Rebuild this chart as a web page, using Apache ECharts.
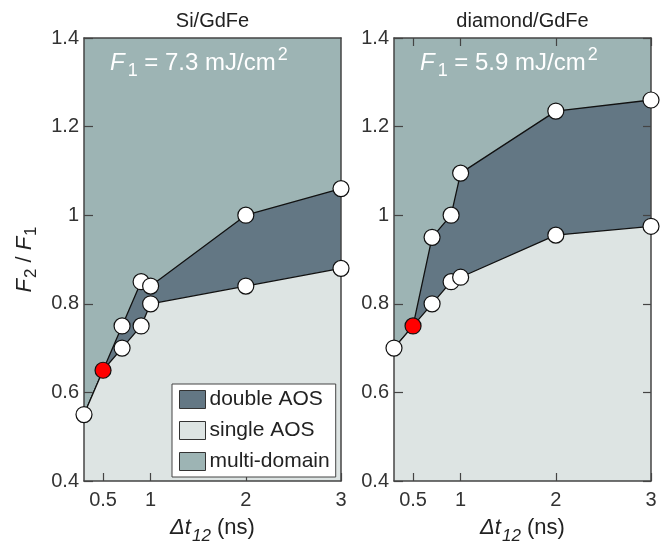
<!DOCTYPE html>
<html>
<head>
<meta charset="utf-8">
<script src="https://cdn.jsdelivr.net/npm/echarts@6/dist/echarts.min.js"></script>
<style>
  body { margin: 0; background: #fff; }
  #main { width: 662px; height: 541px; }
</style>
</head>
<body>
<div id="main"></div>
<script>
// delay between the two pulses (ns)
var dt = [0.3, 0.5, 0.7, 0.9, 1, 2, 3];
var xTicks = [0.5, 1, 2, 3];
// F2/F1 boundaries, Si/GdFe
var siUpper = [0.55, 0.65, 0.75, 0.85, 0.84, 1.0, 1.06];
var siLower = [0.55, 0.65, 0.70, 0.75, 0.80, 0.84, 0.88];
// F2/F1 boundaries, diamond/GdFe
var diaUpper = [0.70, 0.75, 0.95, 1.0, 1.095, 1.235, 1.26];
var diaLower = [0.70, 0.75, 0.80, 0.85, 0.86, 0.955, 0.975];
var redDt = 0.5;
var panelTitles = ['Si/GdFe', 'diamond/GdFe'];
var fluence = ['7.3', '5.9'];
var legendNames = ['double AOS', 'single AOS', 'multi-domain'];

var cDouble = '#637784', cSingle = '#dde4e3', cMulti = '#9db4b4';
var axisCol = '#444', txtCol = '#222';
var font = 'Liberation Sans, Arial, sans-serif';

var gridLeft = [84, 394];
var upper = [siUpper, diaUpper];
var lower = [siLower, diaLower];

function pairs(xs, ys) {
    var out = [];
    for (var i = 0; i < xs.length; i++) out.push([xs[i], ys[i]]);
    return out;
}

var grids = [], xAxes = [], yAxes = [], series = [], graphics = [];

for (var g = 0; g < 2; g++) {
    grids.push({left: gridLeft[g], top: 38, width: 257, height: 443,
        outerBoundsMode: 'none', containLabel: false,
        show: true, backgroundColor: cMulti, borderWidth: 0});

    var line = {show: true, lineStyle: {color: axisCol, width: 1.5}};
    var tick = {show: true, inside: true, length: 8, lineStyle: {color: axisCol, width: 1.2}};
    // bottom x
    xAxes.push({gridIndex: g, type: 'value', min: 0.3, max: 3, z: 3,
        axisLine: line,
        axisTick: Object.assign({customValues: xTicks}, tick),
        axisLabel: {customValues: xTicks, fontSize: 20, fontFamily: font, color: '#333', margin: 9},
        splitLine: {show: false},
        name: '{d|Δt}{s|12}{n| (ns)}', nameLocation: 'middle', nameGap: 29,
        nameTextStyle: {color: txtCol, fontFamily: font, fontSize: 21, rich: {
            d: {fontStyle: 'italic', fontSize: 22, fontFamily: font, color: txtCol},
            s: {fontStyle: 'italic', fontSize: 17, fontFamily: font, color: txtCol, padding: [18, 0, 0, 1]},
            n: {fontSize: 22, fontFamily: font, color: txtCol}
        }}
    });
    // top x (frame)
    xAxes.push({gridIndex: g, type: 'value', position: 'top', min: 0.3, max: 3, z: 3,
        axisLine: line,
        axisTick: Object.assign({customValues: xTicks}, tick, {show: g === 1}),
        axisLabel: {show: false}, splitLine: {show: false}
    });
    // left y
    var yl = {gridIndex: g, type: 'value', min: 0.4, max: 1.4, interval: 0.2, z: 3,
        axisLine: line, axisTick: Object.assign({}, tick, {length: 9}),
        axisLabel: {fontSize: 20, fontFamily: font, color: '#333', margin: 5},
        splitLine: {show: false}};
    if (g === 0) {
        yl.name = '{f|F}{s|2}{n| / }{f|F}{s|1}';
        yl.nameLocation = 'middle';
        yl.nameGap = 44;
        yl.nameRotate = 90;
        yl.nameTextStyle = {color: txtCol, fontSize: 20, fontFamily: font, rich: {
            f: {fontStyle: 'italic', fontSize: 22, fontFamily: font, color: txtCol},
            s: {fontSize: 17, fontFamily: font, color: txtCol, padding: [14, 0, 0, 1]},
            n: {fontSize: 22, fontFamily: font, color: txtCol}
        }};
    }
    yAxes.push(yl);
    // right y (frame)
    yAxes.push({gridIndex: g, type: 'value', position: 'right', min: 0.4, max: 1.4, interval: 0.2, z: 3,
        axisLine: line, axisTick: Object.assign({}, tick, {show: g === 1, length: 8}),
        axisLabel: {show: false}, splitLine: {show: false}});

    // double AOS region under upper boundary
    series.push({type: 'line', name: 'upper' + g, xAxisIndex: 2 * g, yAxisIndex: 2 * g,
        data: pairs(dt, upper[g]), symbol: 'none', z: 1, silent: true,
        lineStyle: {color: '#111', width: 1.3},
        areaStyle: {color: cDouble, opacity: 1, origin: 'start'}});
    // single AOS region under lower boundary
    series.push({type: 'line', name: 'lower' + g, xAxisIndex: 2 * g, yAxisIndex: 2 * g,
        data: pairs(dt, lower[g]), symbol: 'none', z: 2, silent: true,
        lineStyle: {color: '#111', width: 1.3},
        areaStyle: {color: cSingle, opacity: 1, origin: 'start'}});

    // measured points
    var pts = [];
    for (var i = 0; i < dt.length; i++) {
        var cols = [upper[g][i]];
        if (lower[g][i] !== upper[g][i]) cols.push(lower[g][i]);
        for (var k = 0; k < cols.length; k++) {
            var p = {value: [dt[i], cols[k]]};
            if (dt[i] === redDt) p.itemStyle = {color: '#ff0000'};
            pts.push(p);
        }
    }
    series.push({type: 'scatter', name: 'pts' + g, xAxisIndex: 2 * g, yAxisIndex: 2 * g,
        data: pts, symbolSize: 16, z: 4, clip: false, silent: true,
        itemStyle: {color: '#fff', borderColor: '#111', borderWidth: 1.2, opacity: 1}});

    graphics.push({type: 'text', x: gridLeft[g] + 128.5, y: 21, z: 10,
        style: {text: panelTitles[g], fontSize: 20, fontFamily: font, fill: txtCol,
            align: 'center', verticalAlign: 'middle'}});
    graphics.push({type: 'text', x: gridLeft[g] + 26, y: 63, z: 10,
        style: {text: '{f|F}{s|1}{n| = ' + fluence[g] + ' mJ/cm}{p|2}', verticalAlign: 'middle',
            rich: {
                f: {fontStyle: 'italic', fontSize: 24, fontFamily: font, fill: '#fff'},
                s: {fontSize: 18, fontFamily: font, fill: '#fff', padding: [17, 0, 0, 3]},
                n: {fontSize: 24, fontFamily: font, fill: '#fff'},
                p: {fontSize: 18, fontFamily: font, fill: '#fff', padding: [0, 0, 15, 2]}
            }}});
}

// legend-only entries
var legendCols = [cDouble, cSingle, cMulti];
for (var j = 0; j < legendNames.length; j++) {
    series.push({type: 'scatter', name: legendNames[j], xAxisIndex: 0, yAxisIndex: 0,
        data: [], itemStyle: {color: legendCols[j], opacity: 1}});
}

var chart = echarts.init(document.getElementById('main'));
chart.setOption({
    animation: false,
    backgroundColor: '#fff',
    grid: grids,
    xAxis: xAxes,
    yAxis: yAxes,
    legend: {data: legendNames, orient: 'vertical', left: 172, top: 384, z: 6,
        icon: 'rect', itemWidth: 26, itemHeight: 18, itemGap: 10,
        padding: [5, 6, 5, 7], backgroundColor: '#fff', borderColor: axisCol, borderWidth: 1,
        itemStyle: {borderColor: '#333', borderWidth: 1, opacity: 1},
        selectedMode: false,
        textStyle: {fontSize: 21, fontFamily: font, color: txtCol, padding: [0, 0, 0, -1]}},
    graphic: graphics,
    series: series
});
</script>
</body>
</html>
